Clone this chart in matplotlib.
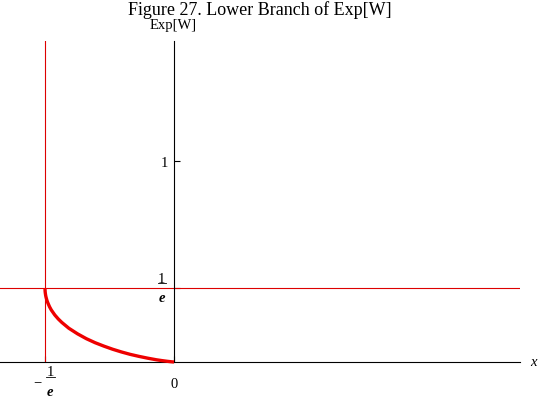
import numpy as np
import matplotlib
matplotlib.use("Agg")
import matplotlib.pyplot as plt

plt.rcParams['font.family'] = ['Liberation Serif', 'DejaVu Serif']

# points (x, Exp[W] on the lower branch)
x_vals = [-0.3679, -0.3677, -0.3674, -0.367, -0.366, -0.365, -0.3625, -0.36,
          -0.355, -0.35, -0.34, -0.33, -0.32, -0.30, -0.275, -0.25, -0.225,
          -0.20, -0.175, -0.15, -0.125, -0.10, -0.075, -0.05, -0.035, -0.02,
          -0.01, -0.005, 0.0]
y_vals = [0.3679, 0.356, 0.349, 0.343, 0.331, 0.323, 0.307, 0.295,
          0.275, 0.259, 0.234, 0.214, 0.197, 0.168, 0.140, 0.116, 0.096,
          0.079, 0.0635, 0.050, 0.038, 0.028, 0.019, 0.011, 0.0071, 0.0036,
          0.0016, 0.0007, 0.0]

inv_e = 0.36788
title = "Figure 27. Lower Branch of Exp[W]"

fig = plt.figure(figsize=(5.4, 4.02), dpi=100)
ax = fig.add_axes([0, 39/402, 520/540, 321/402])
ax.set_xlim(-0.4962, 0.9866)
ax.set_ylim(0, 1.597)

for s in ['top', 'right']:
    ax.spines[s].set_visible(False)
ax.spines['left'].set_position(('data', 0))
ax.spines['bottom'].set_position(('data', 0))
ax.spines['left'].set_linewidth(0.8)
ax.spines['bottom'].set_linewidth(0.8)

ax.axvline(-inv_e, color='#dd0000', lw=0.8)
ax.axhline(inv_e, color='#dd0000', lw=0.8)
ax.plot(x_vals, y_vals, color='#ee0000', lw=2.4, clip_on=False,
        solid_capstyle='butt', zorder=3)

ax.set_yticks([1, inv_e])
ax.set_yticklabels(['1', ''])
ax.set_xticks([-inv_e, 0])
ax.set_xticklabels(['', '0'])
ax.tick_params(axis='y', direction='in', length=4, width=0.8, labelsize=10.5, pad=4)
ax.tick_params(axis='x', direction='in', length=4, width=0.8, labelsize=10.5, pad=11)

# fraction labels 1/e
tr = ax.transData
ax.text(-0.035, inv_e + 0.05, '1', transform=tr, ha='center', va='center', fontsize=10.5)
ax.plot([-0.047, -0.023], [inv_e + 0.026, inv_e + 0.026], color='black', lw=0.6, clip_on=False)
ax.text(-0.035, inv_e - 0.048, 'e', transform=tr, ha='center', va='center',
        fontsize=10.5, fontweight='bold', style='italic')

ax.text(-0.352, -0.048, '1', transform=tr, ha='center', va='center', fontsize=10.5, clip_on=False)
ax.plot([-0.364, -0.340], [-0.075, -0.075], color='black', lw=0.6, clip_on=False)
ax.text(-0.354, -0.145, 'e', transform=tr, ha='center', va='center',
        fontsize=10.5, fontweight='bold', style='italic', clip_on=False)
ax.text(-0.39, -0.098, '\u2212', transform=tr, ha='center', va='center', fontsize=10.5, clip_on=False)

ax.text(0.985 + 0.04, 0.0, 'x', transform=tr, ha='center', va='center',
        fontsize=10.5, style='italic', clip_on=False)

fig.text(260/540, 1 - 15/402, title, ha='center', va='baseline', fontsize=13)
fig.text(173/540, 1 - 25/402, 'Exp[W]', ha='center', va='center', fontsize=10.5)

fig.savefig('out.png', dpi=100)
